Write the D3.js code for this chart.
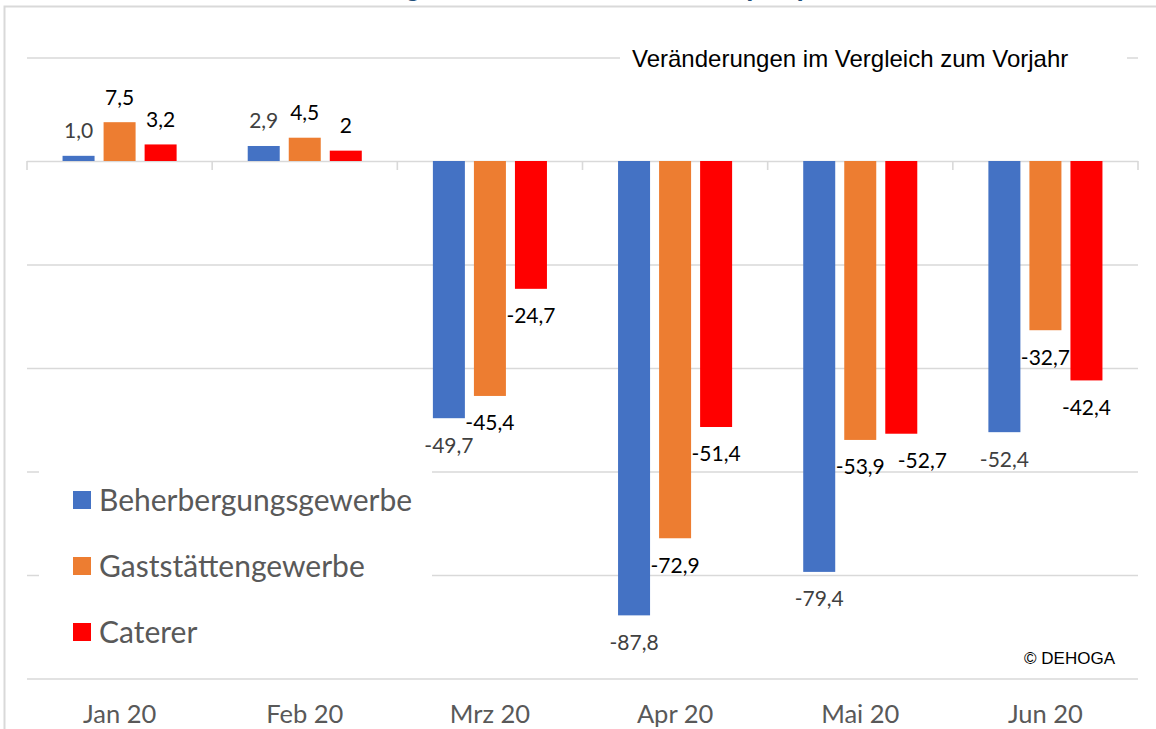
<!DOCTYPE html>
<html>
<head>
<meta charset="utf-8">
<script src="https://cdn.jsdelivr.net/npm/d3@7"></script>
<style>
  body { margin: 0; background: #fff; }
  svg { display: block; }
</style>
</head>
<body>
<script>
// categories and series
const months = ["Jan 20", "Feb 20", "Mrz 20", "Apr 20", "Mai 20", "Jun 20"];
const seriesNames = ["Beherbergungsgewerbe", "Gaststättengewerbe", "Caterer"];
const beherbergung = [1.0, 2.9, -49.7, -87.8, -79.4, -52.4];
const gaststaetten = [7.5, 4.5, -45.4, -72.9, -53.9, -32.7];
const caterer = [3.2, 2, -24.7, -51.4, -52.7, -42.4];
const labelTexts = [
  ["1,0", "2,9", "-49,7", "-87,8", "-79,4", "-52,4"],
  ["7,5", "4,5", "-45,4", "-72,9", "-53,9", "-32,7"],
  ["3,2", "2", "-24,7", "-51,4", "-52,7", "-42,4"]
];
const yTicks = [-100, -80, -60, -40, -20, 0, 20];

function draw() {
  const W = 1156, H = 729;
  const colors = ["#4472C4", "#ED7D31", "#FF0000"];
  const labelColors = ["#404040", "#000000", "#000000"];
  const values = [beherbergung, gaststaetten, caterer];
  // label moved by hand in the original (Caterer, Mai 20)
  const nudge = { "2-4": 21 };

  const plot = { left: 27, right: 1138, top: 57.5, bottom: 678.5 };

  const svg = d3.select("body").append("svg")
    .attr("width", W).attr("height", H);

  // outer frame + cut off title
  svg.append("rect")
    .attr("x", 4.5).attr("y", 6.5).attr("width", W + 10).attr("height", H + 10)
    .attr("fill", "none").attr("stroke", "#d9d9d9").attr("stroke-width", 2);

  const titleText = "Umsätze im Gastgewerbe Januar–Juni 2020 (real)";
  const title = svg.append("text")
    .attr("x", 0).attr("y", -4)
    .attr("font-family", "Liberation Sans, Arial, sans-serif")
    .attr("font-weight", "bold").attr("font-size", 26)
    .attr("fill", "#1F4E79")
    .text(titleText);
  // place the "g" of Gastgewerbe where it sits in the original
  const gi = titleText.indexOf("tg") + 1;
  const off = title.node().getSubStringLength(0, gi) + 8;
  title.attr("x", 413 - off);

  // scales
  const y = d3.scaleLinear().domain([-100, 20]).range([plot.bottom, plot.top]);
  const x0 = d3.scaleBand().domain(months)
    .range([plot.left, plot.right]).paddingInner(0.384).paddingOuter(0.192);
  const x1 = d3.scaleBand().domain(d3.range(3))
    .range([0, x0.bandwidth()]).paddingInner(0.22);

  // gridlines
  svg.append("g")
    .attr("transform", "translate(" + plot.left + ",0)")
    .call(d3.axisLeft(y).tickValues(yTicks).tickSize(-(plot.right - plot.left)).tickFormat(""))
    .call(g => g.select(".domain").remove())
    .call(g => g.selectAll("line").attr("stroke", "#d9d9d9").attr("stroke-width", 1.6));

  // category tick marks on the zero line
  const half = (x0.step() - x0.bandwidth()) / 2;
  const bounds = months.map(m => x0(m) - half).concat([plot.right]);
  svg.append("g").selectAll("line")
    .data(bounds).join("line")
    .attr("x1", d => d).attr("x2", d => d)
    .attr("y1", y(0)).attr("y2", y(0) + 9)
    .attr("stroke", "#d9d9d9").attr("stroke-width", 1.6);

  // bars
  const groups = svg.append("g").selectAll("g")
    .data(months).join("g")
    .attr("transform", d => "translate(" + x0(d) + ",0)");

  const cells = (m, i) => values.map((s, k) => ({ k: k, i: i, v: s[i], t: labelTexts[k][i] }));

  groups.selectAll("rect")
    .data(cells)
    .join("rect")
    .attr("x", d => x1(d.k))
    .attr("width", x1.bandwidth())
    .attr("y", d => y(Math.max(0, d.v)))
    .attr("height", d => Math.abs(y(d.v) - y(0)))
    .attr("fill", d => colors[d.k]);

  groups.selectAll("text")
    .data(cells)
    .join("text")
    .attr("x", d => x1(d.k) + x1.bandwidth() / 2 + (nudge[d.k + "-" + d.i] || 0))
    .attr("y", d => d.v >= 0 ? y(d.v) - 25 : y(d.v) + 27)
    .attr("dy", "0.35em")
    .attr("text-anchor", "middle")
    .attr("font-family", "Lato, sans-serif")
    .attr("font-size", 21)
    .attr("fill", d => labelColors[d.k])
    .text(d => d.t);

  // month labels
  svg.append("g")
    .attr("transform", "translate(0," + plot.bottom + ")")
    .call(d3.axisBottom(x0).tickSize(0).tickPadding(26))
    .call(g => g.select(".domain").remove())
    .call(g => g.selectAll("text")
      .attr("font-family", "Lato, sans-serif")
      .attr("font-size", 25.5)
      .attr("fill", "#595959"));

  // subtitle box
  svg.append("rect")
    .attr("x", 620).attr("y", 44).attr("width", 507).attr("height", 30)
    .attr("fill", "#fff");
  svg.append("text")
    .attr("x", 632).attr("y", 67)
    .attr("font-family", "Liberation Sans, Arial, sans-serif")
    .attr("font-size", 24)
    .attr("fill", "#000")
    .text("Veränderungen im Vergleich zum Vorjahr");

  // legend box
  const legend = svg.append("g");
  legend.append("rect")
    .attr("x", 39).attr("y", 462).attr("width", 393).attr("height", 200)
    .attr("fill", "#fff");
  const rows = legend.selectAll("g")
    .data(seriesNames).join("g")
    .attr("transform", (d, i) => "translate(73," + (500 + i * 66) + ")");
  rows.append("rect")
    .attr("x", 0).attr("y", -9).attr("width", 18).attr("height", 18)
    .attr("fill", (d, i) => colors[i]);
  rows.append("text")
    .attr("x", 26).attr("dy", "0.35em")
    .attr("font-family", "Lato, sans-serif")
    .attr("font-size", 30)
    .attr("fill", "#595959")
    .text(d => d);

  // source
  svg.append("text")
    .attr("x", 1115).attr("y", 664)
    .attr("text-anchor", "end")
    .attr("font-family", "Liberation Sans, Arial, sans-serif")
    .attr("font-size", 17)
    .attr("fill", "#000")
    .text("© DEHOGA");
}

window.addEventListener("load", draw);
</script>
</body>
</html>
